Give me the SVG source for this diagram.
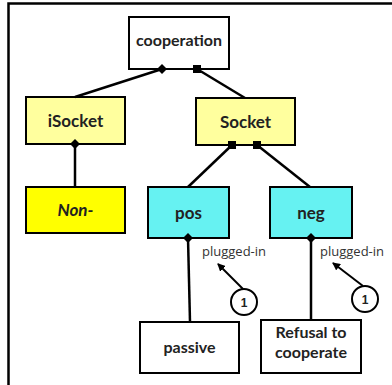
<svg xmlns="http://www.w3.org/2000/svg" width="392" height="385" viewBox="0 0 392 385">
<style>
.box{stroke:#000;stroke-width:2}
.w{fill:#fff}
.ly{fill:#FFFF9E}
.y{fill:#FFFF00}
.c{fill:#66F2F2}
.t{font-family:Lato,"Open Sans",sans-serif;font-weight:bold;fill:#222;text-anchor:middle}
.big{font-size:17px}
.mid{font-size:16px}
.lbl{font-family:"Open Sans","Liberation Sans",sans-serif;font-size:13px;fill:#333}
.ln{stroke:#000;stroke-width:2.5;fill:none}
.num{font-family:"Liberation Sans",sans-serif;font-weight:bold;font-size:12px;text-anchor:middle;fill:#222}
</style>
<defs>
<path id="dia" d="M0,-5 L5,0 L0,5 L-5,0 Z" fill="#000"/>
<rect id="sq" x="-4" y="-4" width="8" height="8" fill="#000"/>
<marker id="ah" markerWidth="8" markerHeight="8" refX="7" refY="4" orient="auto" markerUnits="userSpaceOnUse">
<path d="M0,0 L8,4 L0,8 Z" fill="#000"/>
</marker>
</defs>
<rect width="392" height="385" fill="#fff"/>
<path d="M8.5,385 V3.5 H392" stroke="#000" stroke-width="2.5" fill="none"/>
<g id="cooperation"><rect class="box w" x="129" y="17" width="100" height="52"/><text class="t mid" x="179" y="46">cooperation</text></g>
<g id="iSocket"><rect class="box ly" x="26" y="97" width="99" height="47"/><text class="t big" x="75.5" y="127">iSocket</text></g>
<g id="Socket"><rect class="box ly" x="196" y="98" width="99" height="47"/><text class="t big" x="245.5" y="128">Socket</text></g>
<g id="Non"><rect class="box y" x="26" y="187" width="99" height="46"/><text class="t big" x="75.5" y="216" font-style="italic">Non-</text></g>
<g id="pos"><rect class="box c" x="148" y="187" width="81" height="51"/><text class="t big" x="188.5" y="219">pos</text></g>
<g id="neg"><rect class="box c" x="270" y="187" width="82" height="51"/><text class="t big" x="311" y="219">neg</text></g>
<g id="passive"><rect class="box w" x="140" y="322" width="99" height="51"/><text class="t mid" x="189.5" y="353">passive</text></g>
<g id="refusal"><rect class="box w" x="261" y="320" width="100" height="53"/><text class="t mid" x="311" y="338">Refusal to</text><text class="t mid" x="311" y="358">cooperate</text></g>
<g id="c1"><circle cx="244" cy="302" r="13" fill="#fff" stroke="#000" stroke-width="2"/><text class="num" x="244" y="306.5">1</text></g>
<g id="c2"><circle cx="365" cy="299" r="13" fill="#fff" stroke="#000" stroke-width="2"/><text class="num" x="365" y="303.5">1</text></g>
<g id="connectors">
<line class="ln" x1="162" y1="69" x2="75" y2="97"/>
<line class="ln" x1="197" y1="69" x2="245" y2="98"/>
<line class="ln" x1="75" y1="144" x2="75" y2="187"/>
<line class="ln" x1="232" y1="145" x2="188" y2="187"/>
<line class="ln" x1="257" y1="145" x2="310" y2="187"/>
<line class="ln" x1="188" y1="238" x2="190" y2="322"/>
<line class="ln" x1="311" y1="238" x2="311" y2="320"/>
<use href="#dia" x="162" y="69"/>
<use href="#sq" x="197" y="69"/>
<use href="#dia" x="75" y="144"/>
<use href="#sq" x="232" y="145"/>
<use href="#sq" x="257" y="145"/>
<use href="#dia" x="188" y="238"/>
<use href="#dia" x="311" y="238"/>
<line x1="243" y1="289" x2="218" y2="264" stroke="#000" stroke-width="2" marker-end="url(#ah)"/>
<line x1="363" y1="286" x2="333" y2="263" stroke="#000" stroke-width="2" marker-end="url(#ah)"/>
<text class="lbl" x="202" y="256">plugged-in</text>
<text class="lbl" x="320" y="256">plugged-in</text>
</g>
</svg>
